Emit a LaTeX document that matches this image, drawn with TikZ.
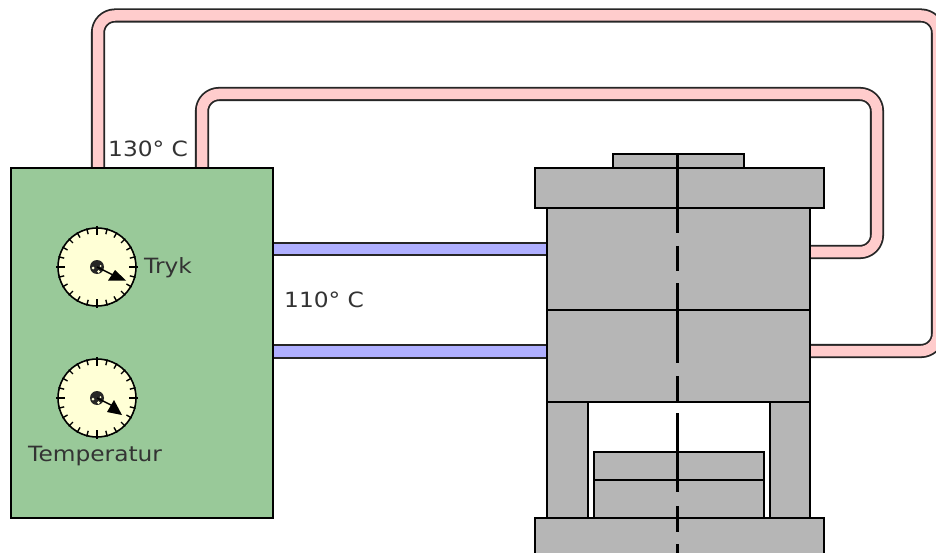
\documentclass[tikz,border=0pt]{standalone}
\usepackage{fontspec}
\setmainfont{DejaVu Sans}
\newfontfamily\labelfont[FakeStretch=1.11]{DejaVu Sans}
\definecolor{panelgreen}{HTML}{99C999}
\definecolor{pressgrey}{HTML}{B6B6B6}
\definecolor{hotpink}{HTML}{FFCCCC}
\definecolor{coldblue}{HTML}{AFAFFF}
\definecolor{dialyellow}{HTML}{FFFFD6}
\tikzset{
  part/.style={draw=black, fill=pressgrey, line width=1.8pt, anchor=north west, inner sep=0pt, outer sep=0pt},
  hotpipe/.style={line width=1.8pt, draw=black!85, double=hotpink, double distance=10.5pt, rounded corners=17pt},
  coldpipe/.style={line width=1.8pt, draw=black!85, double=coldblue, double distance=10.5pt},
  axisline/.style={line width=2.4pt, black},
  label/.style={text=black!80, font=\labelfont\fontsize{21}{21}\selectfont, inner sep=0pt, anchor=base west}
}
\begin{document}
\begin{tikzpicture}[x=1pt,y=-1pt]
  \clip (0,0) rectangle (936,553);
  \fill[white] (0,0) rectangle (936,553);
  % Pipe ends
  \coordinate (hotouterA) at (98,168);
  \coordinate (hotouterB) at (810,351);
  \coordinate (hotinnerA) at (202,168);
  \coordinate (hotinnerB) at (810,252);
  \coordinate (coldtopA) at (273,249);
  \coordinate (coldtopB) at (547,249);
  \coordinate (coldlowA) at (273,351.5);
  \coordinate (coldlowB) at (547,351.5);
  % Hot pipes
  \draw[hotpipe] (hotouterA) -- (98,15.5) -- (938,15.5) -- (938,351) -- (hotouterB);
  \draw[hotpipe] (hotinnerA) -- (202,94) -- (877,94) -- (877,252) -- (hotinnerB);
  % Cold pipes
  \draw[coldpipe] (coldtopA) -- (coldtopB);
  \draw[coldpipe] (coldlowA) -- (coldlowB);
  % Control panel
  \node[part, fill=panelgreen, minimum width=262pt, minimum height=350pt] (panel) at (11,168) {};
  % Press
  \node[part, minimum width=131pt, minimum height=14pt] (cap) at (613,154) {};
  \node[part, minimum width=289pt, minimum height=40pt] (head) at (535,168) {};
  \node[part, minimum width=263pt, minimum height=102pt] (upper) at (547,208) {};
  \node[part, minimum width=263pt, minimum height=92pt] (lower) at (547,310) {};
  \node[part, minimum width=41pt, minimum height=116pt] (legL) at (547,402) {};
  \node[part, minimum width=40pt, minimum height=116pt] (legR) at (770,402) {};
  \node[part, minimum width=170pt, minimum height=28pt] (plateA) at (594,452) {};
  \node[part, minimum width=170pt, minimum height=38pt] (plateB) at (594,480) {};
  \node[part, minimum width=289pt, minimum height=60pt] (base) at (535,518) {};
  % Centre line
  \foreach \ya/\yb in {154/233,246/271,283/363,376/402,413/492,506/532,544/553}{
    \draw[axisline] (677.5,\ya) -- (677.5,\yb);
  }
  % Gauges
  \foreach \cy/\ax/\ay/\bx/\by/\tx/\ty/\name in {267/108/280.5/126/280.5/115/270/tryk,398/107/412/122/415/114/400/temp}{
    \begin{scope}[shift={(97,\cy)}]
      \node[circle, draw=black, fill=dialyellow, line width=1.6pt, minimum size=78pt, inner sep=0pt, outer sep=0pt] (\name) at (0,0) {};
      \foreach \t in {0,15,...,345}{
        \draw[line width=1.4pt] (\t:40) -- (\t:34);
      }
      \foreach \t in {0,90,180,270}{
        \draw[line width=1.4pt] (\t:41) -- (\t:32);
      }
      \fill[black!85] (0,0) circle (7);
      \fill[dialyellow] (-4,1) circle (1.5) (1.5,4.5) circle (1.5) (3.5,-1) circle (1);
      \draw[line width=1.4pt] (0,0) -- (16,8);
      \fill[black] (\ax-97,\ay-\cy) -- (\bx-97,\by-\cy) -- (\tx-97,\ty-\cy) -- cycle;
    \end{scope}
  }
  % Labels
  \node[label] (hotlabel) at (108,157) {130° C};
  \node[label] (coldlabel) at (284,307) {110° C};
  \node[label] (trykl) at (144,273) {Tryk};
  \node[label] (templ) at (28,461) {Temperatur};
\end{tikzpicture}
\end{document}
